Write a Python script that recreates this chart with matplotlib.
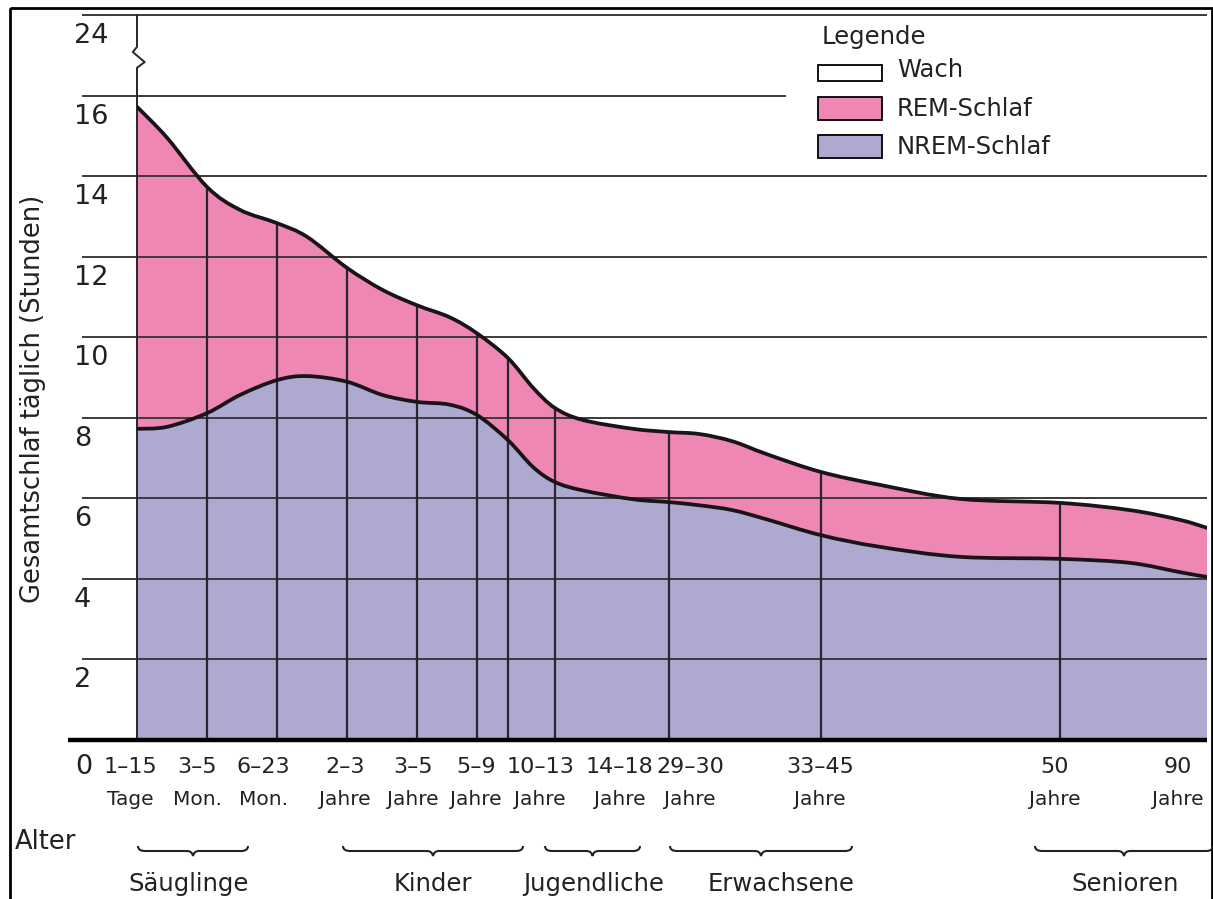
import numpy as np
import matplotlib.pyplot as plt
from matplotlib.patches import Rectangle, PathPatch
from matplotlib.path import Path

# Altersachse: 1 Einheit = Abstand "1-15 Tage" -> "3-5 Mon."
alter_pos = [0, 0.43, 1, 1.47, 2, 2.43, 3, 3.51, 4, 4.47, 4.86, 5.3, 5.66,
             5.97, 6.37, 7.09, 7.6, 8.04, 8.51, 9.0, 9.77, 10.61, 11.76,
             13.19, 14.19, 14.9, 15.29]
# Gesamtschlaf (obere Kurve) und NREM-Schlaf (untere Kurve), Stunden
gesamt = [15.73, 14.96, 13.74, 13.17, 12.84, 12.5, 11.73, 11.18, 10.8, 10.5,
          10.1, 9.49, 8.75, 8.25, 7.95, 7.73, 7.65, 7.6, 7.42, 7.1, 6.66, 6.34,
          5.99, 5.89, 5.71, 5.47, 5.27]
nrem = [7.73, 7.78, 8.12, 8.57, 8.94, 9.04, 8.9, 8.57, 8.4, 8.33, 8.07, 7.45,
        6.78, 6.41, 6.2, 5.98, 5.91, 5.83, 5.71, 5.48, 5.09, 4.8, 4.55, 4.5,
        4.4, 4.17, 4.05]

# senkrechte Linien an den Altersstufen
stufen_pos = [1, 2, 3, 4, 4.86, 5.3, 5.97, 7.6, 9.77, 13.19]

label_oben = ['1–15', '3–5', '6–23', '2–3', '3–5', '5–9', '10–13', '14–18',
              '29–30', '33–45', '50', '90']
label_unten = ['Tage', 'Mon.', 'Mon.', 'Jahre', 'Jahre', 'Jahre', 'Jahre',
               'Jahre', 'Jahre', 'Jahre', 'Jahre', 'Jahre']
label_x = [-0.09, 0.86, 1.81, 2.97, 3.94, 4.84, 5.76, 6.9, 7.9, 9.76, 13.11, 14.88]

y_ticks = [2, 4, 6, 8, 10, 12, 14, 16]
y_top = 18.01          # Achsenbruch: oberste Linie steht fuer 24
y_top_label = '24'

gruppen = ['Säuglinge', 'Kinder', 'Jugendliche', 'Erwachsene', 'Senioren']
gruppen_von = [138, 343, 545, 670, 1035]     # Klammern (Pixel)
gruppen_bis = [248, 523, 640, 852, 1213]
gruppen_text_x = [189, 433, 594, 781, 1125]

rosa = '#EF87B4'
lila = '#ADA9D1'
dunkel = '#2a2430'
textfarbe = '#222222'
x_max = alter_pos[-1]


def glatt(xs, ys):
    p = np.column_stack([xs, ys])
    n = len(p)
    verts = [p[0]]
    codes = [Path.MOVETO]
    for i in range(n - 1):
        p0, p1 = p[max(i - 1, 0)], p[i]
        p2, p3 = p[i + 1], p[min(i + 2, n - 1)]
        verts += [p1 + (p2 - p0) / 6, p2 - (p3 - p1) / 6, p2]
        codes += [Path.CURVE4] * 3
    return verts, codes


fig = plt.figure(figsize=(12.13, 8.99), dpi=100)
W, H = 1213, 899
ax = fig.add_axes([137 / W, 1 - 740 / H, (1207 - 137) / W, (740 - 15) / H])
ax.set_xlim(0, x_max)
ax.set_ylim(0, y_top)
ax.axis('off')

v_top, c_top = glatt(alter_pos, gesamt)
v_nrem, c_nrem = glatt(alter_pos, nrem)

# NREM-Flaeche
verts = v_nrem + [(x_max, 0), (0, 0), v_nrem[0]]
codes = c_nrem + [Path.LINETO, Path.LINETO, Path.CLOSEPOLY]
ax.add_patch(PathPatch(Path(verts, codes), facecolor=lila, lw=0, zorder=1))

# REM-Flaeche zwischen den Kurven
verts = v_top + v_nrem[::-1] + [v_top[0]]
codes = c_top + [Path.LINETO] + c_nrem[1:] + [Path.CLOSEPOLY]
ax.add_patch(PathPatch(Path(verts, codes), facecolor=rosa, lw=0, zorder=1))

# Gitterlinien
x_links = -0.79
ax.hlines([2, 4, 6, 8, 10, 12, 14], x_links, x_max, color='#3a3a3a', lw=1.4,
          zorder=2, clip_on=False)
ax.hlines(16, x_links, 9.27, color='#3a3a3a', lw=1.4, zorder=2, clip_on=False)
ax.hlines(y_top, x_links, x_max, color='#3a3a3a', lw=1.4, zorder=2, clip_on=False)

# senkrechte Linien bis zur oberen Kurve
ax.vlines(stufen_pos, 0, np.interp(stufen_pos, alter_pos, gesamt),
          color=dunkel, lw=1.6, zorder=3)

# y-Achse mit Bruch
ax.plot([0, 0, -0.06, 0.11, 0, 0], [y_top, 17.22, 17.09, 16.84, 16.7, 0],
        color=dunkel, lw=1.4, zorder=3, clip_on=False)

for v, c in [(v_top, c_top), (v_nrem, c_nrem)]:
    ax.add_patch(PathPatch(Path(v, c), fill=False, edgecolor='#1a1418', lw=2.7,
                           capstyle='round', joinstyle='round', zorder=4))

# x-Achse
ax.hlines(0, -0.99, x_max, color='black', lw=3.2, zorder=5, clip_on=False)

# y-Beschriftung
for t in y_ticks:
    ax.text(-0.9, t - 0.52, str(t), ha='left', va='center', fontsize=19.5,
            color=textfarbe, clip_on=False)
ax.text(-0.9, y_top - 0.52, y_top_label, ha='left', va='center', fontsize=19.5,
        color=textfarbe, clip_on=False)
ax.text(-0.88, -0.67, '0', ha='left', va='center', fontsize=19.5,
        color=textfarbe, clip_on=False)

# x-Beschriftung
for x, a, b in zip(label_x, label_oben, label_unten):
    ax.text(x, -0.67, a, ha='center', va='center', fontsize=16,
            color=textfarbe, clip_on=False)
    ax.text(x, -1.47, b, ha='center', va='center', fontsize=14.5,
            color=textfarbe, clip_on=False)

# Overlay in Pixelkoordinaten fuer Legende, Klammern, Rahmen
ov = fig.add_axes([0, 0, 1, 1], zorder=10)
ov.set_xlim(0, W)
ov.set_ylim(H, 0)
ov.axis('off')
ov.patch.set_alpha(0)

ov.add_patch(Rectangle((10, 8), 1202, 900, fill=False, edgecolor='black', lw=2))

ov.text(33, 399, 'Gesamtschlaf täglich (Stunden)', rotation=90, ha='center',
        va='center', fontsize=18.5, color=textfarbe)

# Legende
ov.text(822, 37, 'Legende', ha='left', va='center', fontsize=17.5, color=textfarbe)
ov.add_patch(Rectangle((818, 65), 64, 16, facecolor='white', edgecolor='black', lw=1.3))
ov.add_patch(Rectangle((818, 97), 64, 23, facecolor=rosa, edgecolor='black', lw=1.3))
ov.add_patch(Rectangle((818, 135), 64, 23, facecolor=lila, edgecolor='black', lw=1.3))
ov.text(897, 70, 'Wach', ha='left', va='center', fontsize=17.5, color=textfarbe)
ov.text(897, 109, 'REM-Schlaf', ha='left', va='center', fontsize=17.5, color=textfarbe)
ov.text(897, 147, 'NREM-Schlaf', ha='left', va='center', fontsize=17.5, color=textfarbe)

ov.text(15, 842, 'Alter', ha='left', va='center', fontsize=18.5, color=textfarbe)


def klammer(x0, x1, y):
    xc = (x0 + x1) / 2
    verts = [(x0, y - 5), (x0, y), (x0 + 7, y), (xc - 6, y), (xc - 1, y), (xc, y + 5),
             (xc + 1, y), (xc + 6, y), (x1 - 7, y), (x1, y), (x1, y - 5)]
    codes = [Path.MOVETO, Path.CURVE3, Path.CURVE3, Path.LINETO, Path.CURVE3, Path.CURVE3,
             Path.CURVE3, Path.CURVE3, Path.LINETO, Path.CURVE3, Path.CURVE3]
    ov.add_patch(PathPatch(Path(verts, codes), fill=False, edgecolor=textfarbe, lw=1.5))


for name, a, b, tx in zip(gruppen, gruppen_von, gruppen_bis, gruppen_text_x):
    klammer(a, b, 851)
    ov.text(tx, 884, name, ha='center', va='center', fontsize=17.5, color=textfarbe)

fig.savefig('out.png', dpi=100)
